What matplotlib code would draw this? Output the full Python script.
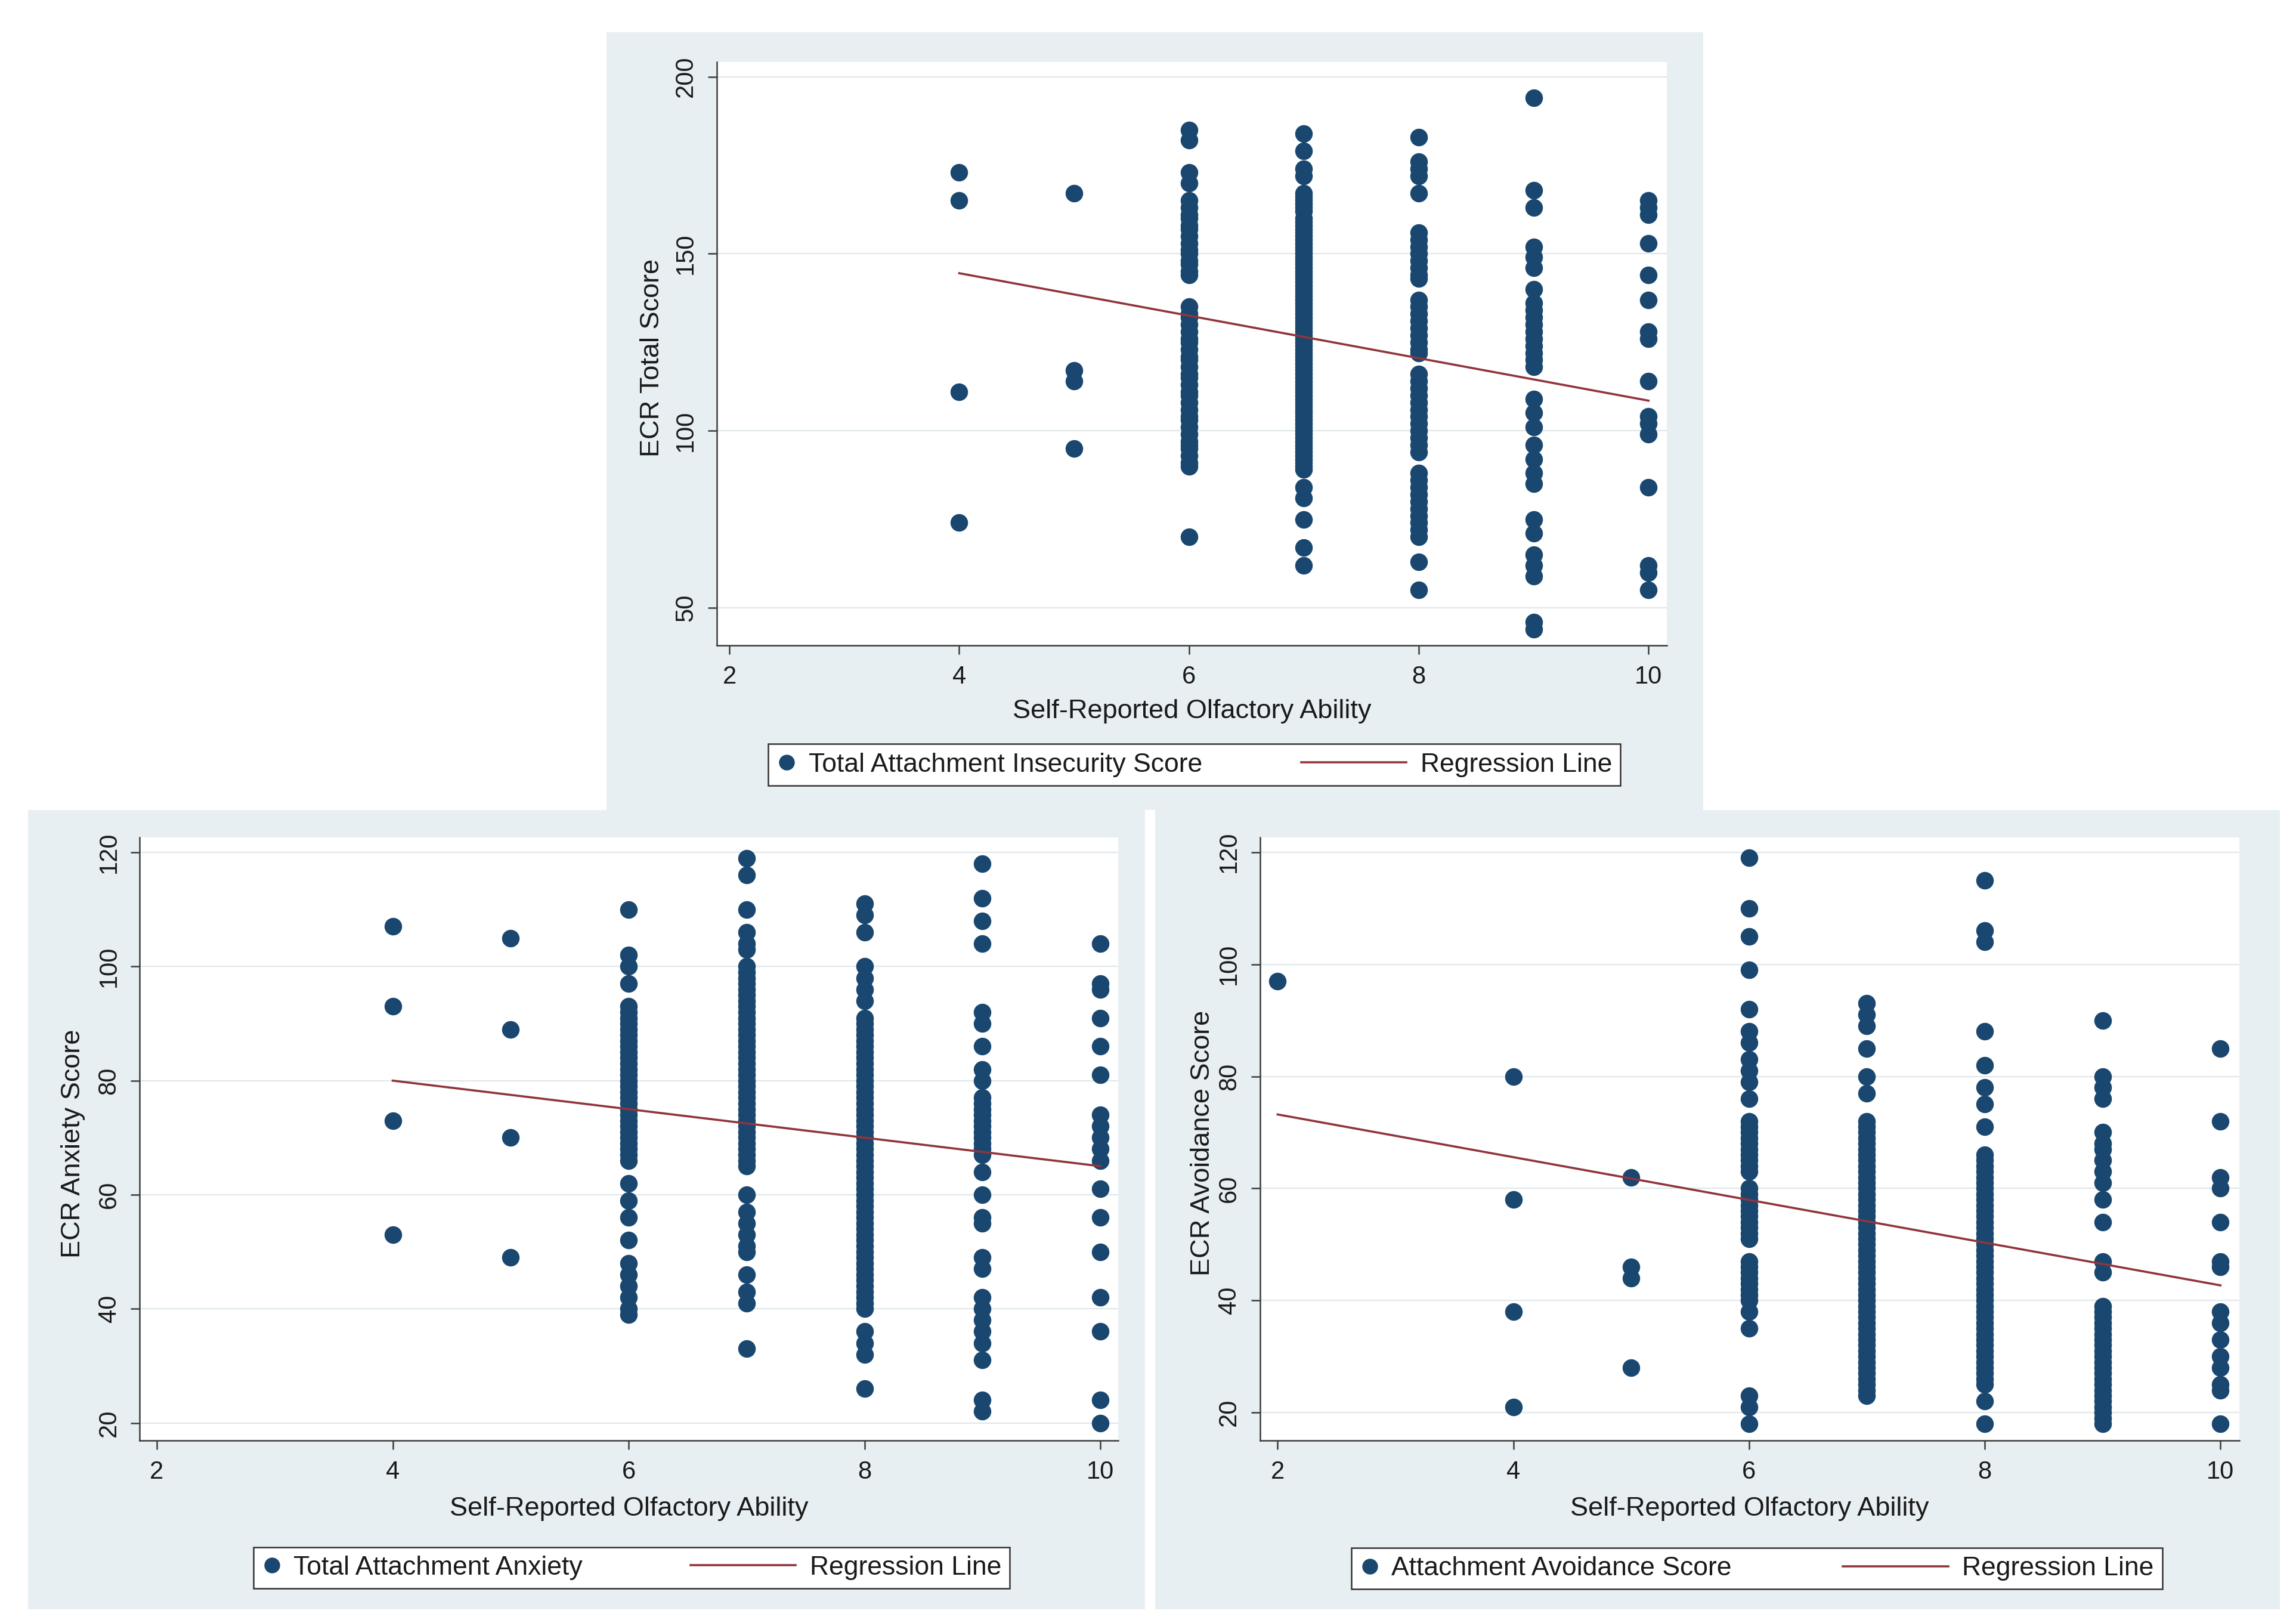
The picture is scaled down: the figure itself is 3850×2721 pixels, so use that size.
import matplotlib
matplotlib.use("Agg")
import matplotlib.pyplot as plt
from matplotlib.lines import Line2D
from matplotlib.patches import Rectangle
from matplotlib.legend_handler import HandlerBase

plt.rcParams['font.family'] = ['Liberation Sans', 'DejaVu Sans']

# ---------------- data ----------------
x_ticks = [2, 4, 6, 8, 10]

# Panel 1: ECR Total Score
total_levels = [4, 5, 6, 7, 8, 9, 10]
total_4 = [173, 165, 111, 74]
total_5 = [167, 117, 114, 95]
total_6 = [185, 182, 173, 170, 165, 163, 161, 160, 158, 157, 155, 153, 151, 150, 148, 147,
           145, 144, 135, 133, 132, 130, 128, 126, 125, 123, 121, 120, 118, 116, 115, 113,
           111, 110, 108, 106, 104, 103, 101, 99, 97, 96, 95, 93, 91, 90, 70]
total_7 = [184, 179, 174, 172, 167, 166, 165, 164, 163, 162, 160, 159, 158, 157, 156, 155,
           154, 153, 152, 151, 150, 149, 148, 147, 146, 145, 144, 143, 142, 141, 140, 139,
           138, 137, 136, 135, 134, 133, 132, 131, 130, 129, 128, 127, 126, 125, 124, 123,
           122, 121, 120, 119, 118, 117, 116, 115, 114, 113, 112, 111, 110, 109, 108, 107,
           106, 105, 104, 103, 102, 101, 100, 99, 98, 97, 96, 95, 94, 93, 92, 91, 90, 89,
           84, 81, 75, 67, 62]
total_8 = [183, 176, 174, 172, 167, 156, 154, 152, 150, 148, 146, 144, 143, 137, 135, 133,
           131, 129, 127, 125, 123, 122, 116, 114, 112, 110, 108, 106, 104, 102, 100, 98,
           96, 94, 88, 86, 84, 82, 80, 78, 76, 74, 72, 70, 63, 55]
total_9 = [194, 168, 163, 152, 149, 146, 140, 136, 134, 132, 130, 128, 126, 124, 122, 120,
           118, 109, 105, 101, 96, 92, 88, 85, 75, 71, 65, 62, 59, 46, 44]
total_10 = [165, 163, 161, 153, 144, 137, 128, 126, 114, 104, 102, 99, 84, 62, 60, 55]
total_fit_x = [4, 10]
total_fit_y = [144.5, 108.5]
total_yticks = [50, 100, 150, 200]

# Panel 2: ECR Anxiety Score
anx_levels = [4, 5, 6, 7, 8, 9, 10]
anx_4 = [107, 93, 73, 53]
anx_5 = [105, 89, 70, 49]
anx_6 = [110, 102, 100, 97, 93, 92, 91, 90, 89, 88, 87, 86, 85, 84, 83, 82, 81, 80, 79, 78,
         77, 76, 75, 74, 73, 72, 71, 70, 69, 68, 67, 66, 62, 59, 56, 52, 48, 46, 44, 42, 40, 39]
anx_7 = [119, 116, 110, 106, 104, 103, 100, 99, 98, 97, 96, 95, 94, 93, 92, 91, 90, 89, 88,
         87, 86, 85, 84, 83, 82, 81, 80, 79, 78, 77, 76, 75, 74, 73, 72, 71, 70, 69, 68, 67,
         66, 65, 60, 57, 55, 53, 51, 50, 46, 43, 41, 33]
anx_8 = [111, 109, 106, 100, 98, 96, 94, 91, 90, 89, 88, 87, 86, 85, 84, 83, 82, 81, 80, 79,
         78, 77, 76, 75, 74, 73, 72, 71, 70, 69, 68, 67, 66, 65, 64, 63, 62, 61, 60, 59, 58,
         57, 56, 55, 54, 53, 52, 51, 50, 49, 48, 47, 46, 45, 44, 43, 42, 41, 40, 36, 34, 32, 26]
anx_9 = [118, 112, 108, 104, 92, 90, 86, 82, 80, 77, 76, 75, 74, 73, 72, 71, 70, 69, 68, 67,
         64, 60, 56, 55, 49, 47, 42, 40, 38, 36, 34, 31, 24, 22]
anx_10 = [104, 97, 96, 91, 86, 81, 74, 72, 70, 68, 66, 61, 56, 50, 42, 36, 24, 20]
anx_fit_x = [4, 10]
anx_fit_y = [80.0, 65.0]
anx_yticks = [20, 40, 60, 80, 100, 120]

# Panel 3: ECR Avoidance Score
avd_levels = [2, 4, 5, 6, 7, 8, 9, 10]
avd_2 = [97]
avd_4 = [80, 58, 38, 21]
avd_5 = [62, 46, 44, 28]
avd_6 = [119, 110, 105, 99, 92, 88, 86, 83, 81, 79, 76, 72, 71, 70, 69, 68, 67, 66, 65, 64,
         63, 60, 59, 58, 57, 56, 55, 54, 53, 52, 51, 47, 46, 45, 44, 43, 42, 41, 40, 38, 35,
         23, 21, 18]
avd_7 = [93, 91, 89, 85, 80, 77, 72, 71, 70, 69, 68, 67, 66, 65, 64, 63, 62, 61, 60, 59, 58,
         57, 56, 55, 54, 53, 52, 51, 50, 49, 48, 47, 46, 45, 44, 43, 42, 41, 40, 39, 38, 37,
         36, 35, 34, 33, 32, 31, 30, 29, 28, 27, 26, 25, 24, 23]
avd_8 = [115, 106, 104, 88, 82, 78, 75, 71, 66, 65, 64, 63, 62, 61, 60, 59, 58, 57, 56, 55,
         54, 53, 52, 51, 50, 49, 48, 47, 46, 45, 44, 43, 42, 41, 40, 39, 38, 37, 36, 35, 34,
         33, 32, 31, 30, 29, 28, 27, 26, 25, 22, 18]
avd_9 = [90, 80, 78, 76, 70, 68, 67, 65, 63, 61, 58, 54, 47, 45, 39, 38, 37, 36, 35, 34, 33,
         32, 31, 30, 29, 28, 27, 26, 25, 24, 23, 22, 21, 20, 19, 18]
avd_10 = [85, 72, 62, 60, 54, 47, 46, 38, 36, 33, 30, 28, 25, 24, 18]
avd_fit_x = [2, 10]
avd_fit_y = [73.2, 42.7]
avd_yticks = [20, 40, 60, 80, 100, 120]

# ---------------- style ----------------
NAVY = '#1A476F'
MAROON = '#90353B'
PANEL_BG = '#E8EFF2'
GRID = '#E0E8EB'
AXIS = '#3C3C3C'
TICK_FS = 30
LABEL_FS = 32.5
LEG_FS = 32
MARKER_S = 450
FIT_LW = 2.6


class LongLineHandler(HandlerBase):
    """Legend line that extends to the left of the (short) handle box."""
    def __init__(self, factor):
        super().__init__()
        self.factor = factor

    def create_artists(self, legend, orig_handle, xdescent, ydescent, width,
                       height, fontsize, trans):
        x1 = -xdescent + width * 0.9
        x0 = x1 - width * self.factor
        y = (height - ydescent) / 2.0
        line = Line2D([x0, x1], [y, y])
        self.update_prop(line, orig_handle, legend)
        line.set_transform(trans)
        return [line]


fig = plt.figure(figsize=(38.5, 27.21), dpi=100)
fig.patch.set_facecolor('white')

# panel background regions (figure fractions)
for (x0, y0, w, h) in [(0.2641, 0.5011, 0.4776, 0.4789),
                       (0.0122, 0.0086, 0.4865, 0.4925),
                       (0.5032, 0.0086, 0.4897, 0.4925)]:
    fig.add_artist(Rectangle((x0, y0), w, h, transform=fig.transFigure,
                             facecolor=PANEL_BG, edgecolor='none', zorder=-10))


def draw_panel(rect, levels, groups, fit_x, fit_y, yticks, xlim, ylim, ylabel,
               series_label, ylab_x, leg_box):
    ax = fig.add_axes(rect)
    ax.set_facecolor('white')
    for lv, vals in zip(levels, groups):
        ax.scatter([lv] * len(vals), vals, s=MARKER_S, color=NAVY, linewidths=0,
                   zorder=3)
    ax.plot(fit_x, fit_y, color=MAROON, lw=FIT_LW, zorder=4)
    ax.set_xlim(*xlim)
    ax.set_ylim(*ylim)
    ax.set_xticks(x_ticks)
    ax.set_yticks(yticks)
    ax.grid(axis='y', color=GRID, lw=1.6, zorder=0)
    ax.grid(axis='x', visible=False)
    ax.set_axisbelow(True)
    for s in ['top', 'right']:
        ax.spines[s].set_visible(False)
    for s in ['left', 'bottom']:
        ax.spines[s].set_color(AXIS)
        ax.spines[s].set_linewidth(1.8)
    ax.tick_params(axis='both', direction='out', length=11, width=1.8, color=AXIS,
                   labelsize=TICK_FS, labelcolor='#1a1a1a')
    ax.tick_params(axis='x', pad=13)
    ax.tick_params(axis='y', pad=12, labelrotation=90)
    for lab in ax.get_yticklabels():
        lab.set_verticalalignment('center')
    ax.set_xlabel('Self-Reported Olfactory Ability', fontsize=LABEL_FS, color='#1a1a1a')
    ax.xaxis.label.set_verticalalignment('center')
    ax.xaxis.set_label_coords(0.5, -0.113)
    ax.set_ylabel(ylabel, fontsize=LABEL_FS, color='#1a1a1a')
    ax.yaxis.label.set_verticalalignment('center')
    ax.yaxis.set_label_coords(ylab_x, 0.493)

    h_pts = Line2D([], [], ls='none', marker='o', markersize=19, color=NAVY,
                   markeredgewidth=0)
    h_line = Line2D([], [], color=MAROON, lw=FIT_LW)
    lx, lyc, lw_ = leg_box
    leg = ax.legend([h_pts, h_line], [series_label, 'Regression Line'],
                    loc='center', bbox_to_anchor=(lx, lyc, lw_, 0.0),
                    bbox_transform=fig.transFigure, mode='expand', ncol=2,
                    frameon=True, fancybox=False, framealpha=1, edgecolor='#333333',
                    facecolor='white', fontsize=LEG_FS, handlelength=0.75,
                    handletextpad=0.45, borderpad=0.32, borderaxespad=0.0,
                    numpoints=1, handler_map={h_line: LongLineHandler(5.3)})
    leg.get_frame().set_linewidth(1.8)
    for t in leg.get_texts():
        t.set_color('#1a1a1a')
    return ax


draw_panel([0.3122, 0.6024, 0.4138, 0.3595], total_levels,
           [total_4, total_5, total_6, total_7, total_8, total_9, total_10],
           total_fit_x, total_fit_y, total_yticks, (1.89, 10.16), (39.4, 204.2),
           'ECR Total Score', 'Total Attachment Insecurity Score', -0.068,
           (0.3346, 0.5288, 0.3712))

draw_panel([0.0609, 0.1124, 0.4261, 0.3715], anx_levels,
           [anx_4, anx_5, anx_6, anx_7, anx_8, anx_9, anx_10],
           anx_fit_x, anx_fit_y, anx_yticks, (1.856, 10.15), (16.9, 122.6),
           'ECR Anxiety Score', 'Total Attachment Anxiety', -0.068,
           (0.1103, 0.0340, 0.3295))

draw_panel([0.5489, 0.1124, 0.4264, 0.3715], avd_levels,
           [avd_2, avd_4, avd_5, avd_6, avd_7, avd_8, avd_9, avd_10],
           avd_fit_x, avd_fit_y, avd_yticks, (1.853, 10.16), (15.0, 122.6),
           'ECR Avoidance Score', 'Attachment Avoidance Score', -0.059,
           (0.5885, 0.0336, 0.3532))

fig.savefig('out.png', dpi=100, facecolor='white')
